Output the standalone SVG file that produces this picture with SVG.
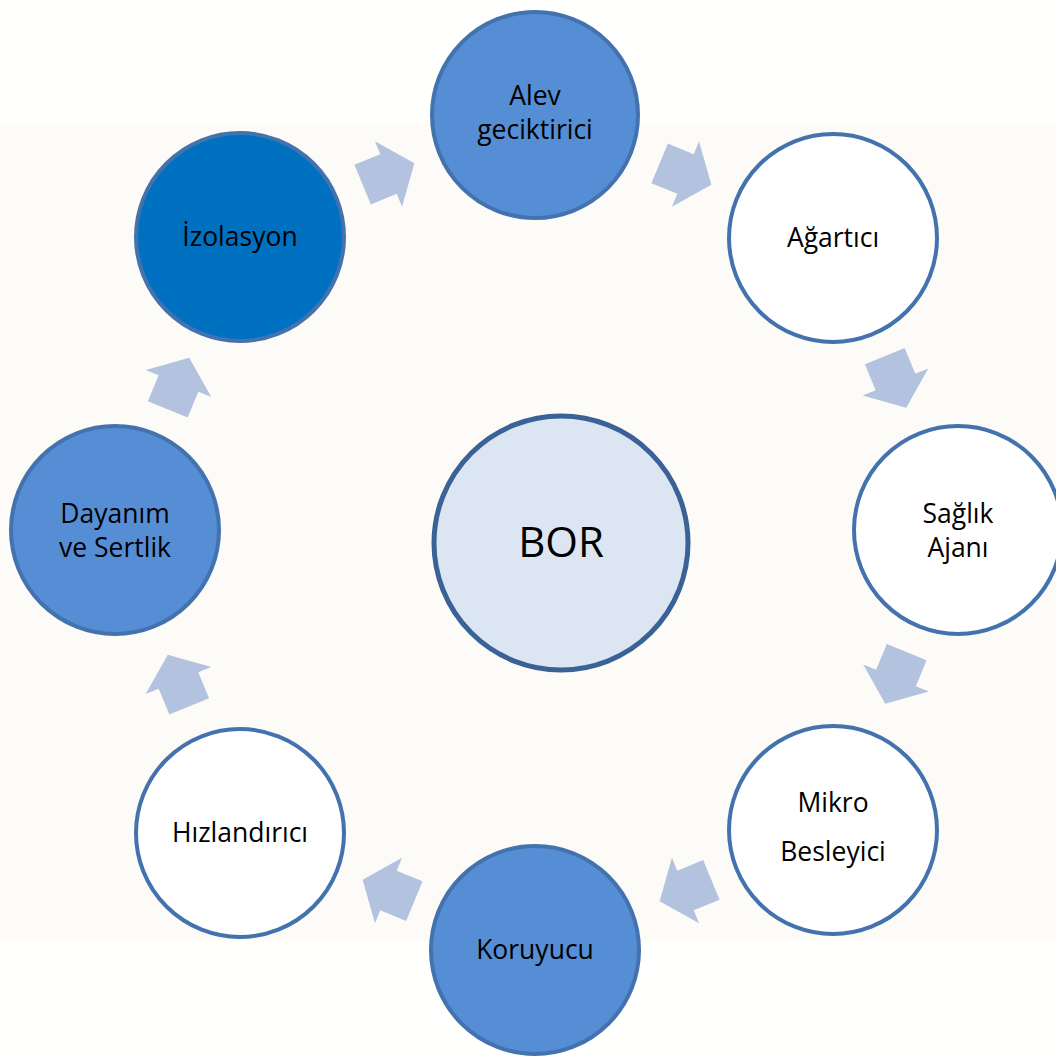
<svg xmlns="http://www.w3.org/2000/svg" width="1056" height="1061" viewBox="0 0 1056 1061">
<style>
.node{stroke:#4372AE;stroke-width:4}
.blue{fill:#558ED5}
.dark{fill:#0070C0}
.white{fill:#FFFFFF}
.lbl{font-family:"Open Sans","Liberation Sans",sans-serif;font-size:26.5px;fill:#000;text-anchor:middle}
.arr{fill:#B3C3DF}
</style>
<defs>
<polygon id="arrow" class="arr" points="-28,-21.5 0,-21.5 0,-35.5 28,0 0,35.5 0,21.5 -28,21.5"/>
</defs>
<rect x="0" y="0" width="1056" height="1061" fill="#FFFFFE"/>
<rect x="0" y="124" width="1056" height="817" fill="#FCFBF8"/>
<g id="connectors">
<use href="#arrow" transform="translate(388.5,174) rotate(-22.5)"/>
<use href="#arrow" transform="translate(685.5,174) rotate(22.5)"/>
<use href="#arrow" transform="translate(895.5,382) rotate(67.5)"/>
<use href="#arrow" transform="translate(896,678) rotate(112.5)"/>
<use href="#arrow" transform="translate(685.5,890.5) rotate(157.5)"/>
<use href="#arrow" transform="translate(388.5,890.5) rotate(202.5)"/>
<use href="#arrow" transform="translate(178.5,680.5) rotate(247.5)"/>
<use href="#arrow" transform="translate(178.5,383.5) rotate(292.5)"/>
</g>
<g id="bor">
<circle cx="561" cy="543" r="127" fill="#DCE6F2" stroke="#3A6296" stroke-width="5"/>
<text x="561" y="557" font-family="Open Sans, Liberation Sans, sans-serif" font-size="42" text-anchor="middle" fill="#000">BOR</text>
</g>
<g id="alev">
<circle class="node blue" cx="535" cy="115" r="103"/>
<text class="lbl" x="535" y="105">Alev</text>
<text class="lbl" x="535" y="139">geciktirici</text>
</g>
<g id="agartici">
<circle class="node white" cx="833" cy="238" r="104"/>
<text class="lbl" x="833" y="247">Ağartıcı</text>
</g>
<g id="saglik">
<circle class="node white" cx="958" cy="530" r="104"/>
<text class="lbl" x="958" y="523">Sağlık</text>
<text class="lbl" x="958" y="557">Ajanı</text>
</g>
<g id="mikro">
<circle class="node white" cx="833" cy="830" r="104"/>
<text class="lbl" x="833" y="812">Mikro</text>
<text class="lbl" x="833" y="861">Besleyici</text>
</g>
<g id="koruyucu">
<circle class="node blue" cx="535" cy="950" r="104"/>
<text class="lbl" x="535" y="959">Koruyucu</text>
</g>
<g id="hizlandirici">
<circle class="node white" cx="240" cy="833" r="104"/>
<text class="lbl" x="240" y="842">Hızlandırıcı</text>
</g>
<g id="dayanim">
<circle class="node blue" cx="115" cy="530" r="104"/>
<text class="lbl" x="115" y="523">Dayanım</text>
<text class="lbl" x="115" y="557">ve Sertlik</text>
</g>
<g id="izolasyon">
<circle class="node dark" cx="240" cy="237" r="104"/>
<text class="lbl" x="240" y="246">İzolasyon</text>
</g>
</svg>
